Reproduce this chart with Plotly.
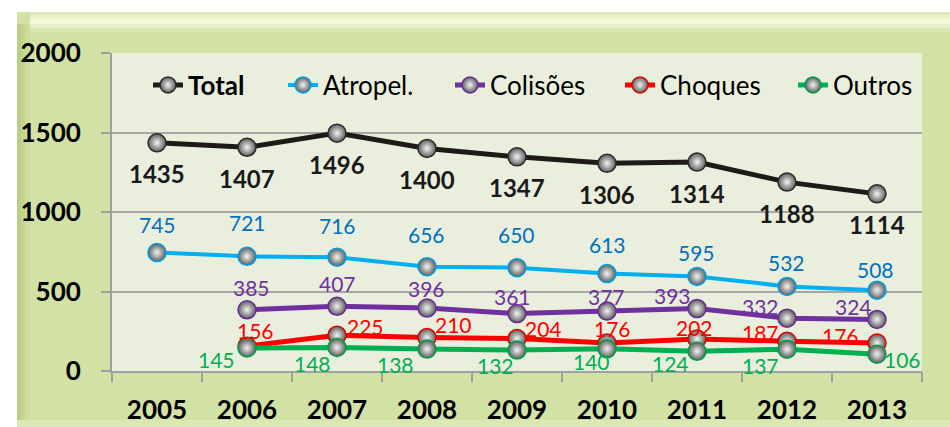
import plotly.graph_objects as go

# ---- data -------------------------------------------------------------
years = ["2005", "2006", "2007", "2008", "2009", "2010", "2011", "2012", "2013"]
total = [1435, 1407, 1496, 1400, 1347, 1306, 1314, 1188, 1114]
atropel = [745, 721, 716, 656, 650, 613, 595, 532, 508]
colisoes = [None, 385, 407, 396, 361, 377, 393, 332, 324]
choques = [None, 156, 225, 210, 204, 176, 202, 187, 176]
outros = [None, 145, 148, 138, 132, 140, 124, 137, 106]
y_ticks = [0, 500, 1000, 1500, 2000]

# ---- label offsets (pixels, dx right / dy down) ----------------------
off_total = [(0, 31)] * 9
off_atropel = [(0, -28), (0, -34), (0, -32), (-1, -32), (-1, -33),
               (0, -29), (-1, -24), (-1, -24), (-2, -21)]
off_colisoes = [None, (4, -22), (0, -23), (-1, -20), (-5, -17),
                (-1, -15), (-25, -13), (-27, -12), (-24, -13)]
off_choques = [None, (8, -16), (28, -9), (26, -13), (26, -10),
               (5, -15), (-3, -11), (-27, -9), (-37, -8)]
off_outros = [None, (-31, 12), (-25, 16), (-32, 15), (-22, 15),
              (-16, 13), (-27, 12), (-27, 16), (25, 5)]

FONT = "Lato, 'Open Sans', sans-serif"

series = [
    # name, values, line colour, rim colour, label colour, bold, offsets, legend width
    ("<b>Total</b>", total, "#1E1A16", "#2A2A2A", "#1A1A1A", True, off_total, 90),
    ("Atropel.", atropel, "#00B0F0", "#00A0E0", "#0070C0", False, off_atropel, 122),
    ("Colisões", colisoes, "#7030A0", "#6A2C96", "#7030A0", False, off_colisoes, 125),
    ("Choques", choques, "#FF0000", "#E00000", "#FF0000", False, off_choques, 128),
    ("Outros", outros, "#00B050", "#00A048", "#00B050", False, off_outros, 80),
]

fig = go.Figure()
annotations = []
for name, vals, lc, rim, tc, bold, offs, lw in series:
    fig.add_trace(go.Scatter(
        x=years, y=vals, name=name, mode="lines+markers",
        line=dict(color=lc, width=5 if lc != "#00B0F0" else 4),
        marker=dict(size=18, color="#5E5E5E",
                    gradient=dict(type="radial", color="#F4F4F4"),
                    line=dict(color=rim, width=1.5)),
        legendwidth=lw,
        hoverinfo="skip",
    ))
    for i, (v, o) in enumerate(zip(vals, offs)):
        if v is None:
            continue
        txt = f"<b>{v}</b>" if bold else str(v)
        annotations.append(dict(
            x=i, y=v, xref="x", yref="y", text=txt, showarrow=False,
            xshift=o[0], yshift=-o[1],
            font=dict(family=FONT, size=24 if bold else 21, color=tc),
        ))

# ---- frame / background shapes (paper coords; plot area = 112..922 x 53..371)
W, H = 950, 427
L, R, T, B = 112, 922, 53, 371


def px(xp):
    return (xp - L) / (R - L)


def py(yp):
    return (B - yp) / (B - T)


shapes = []
# outer green panel
shapes.append(dict(type="rect", xref="paper", yref="paper", layer="below",
                   x0=px(17), x1=px(951), y0=py(428), y1=py(12),
                   fillcolor="#D2E2A4", line=dict(width=0)))
# top highlight band
for y0, y1, col in [(12, 15, "#DDE9BC"), (15, 19, "#EAF2CC"), (19, 24, "#F4F9DA"),
                    (24, 28, "#E6F0C4"), (28, 32, "#DAE8B2")]:
    shapes.append(dict(type="rect", xref="paper", yref="paper", layer="below",
                       x0=px(30), x1=px(951), y0=py(y1), y1=py(y0),
                       fillcolor=col, line=dict(width=0)))
# left shaded edge
for x0, x1, col in [(17, 21, "#BACE84"), (21, 25, "#C3D690"), (25, 30, "#CBDC9B")]:
    shapes.append(dict(type="rect", xref="paper", yref="paper", layer="below",
                       x0=px(x0), x1=px(x1), y0=py(428), y1=py(24),
                       fillcolor=col, line=dict(width=0)))
# bottom light edge
shapes.append(dict(type="rect", xref="paper", yref="paper", layer="below",
                   x0=px(17), x1=px(951), y0=py(428), y1=py(420),
                   fillcolor="#DAE8B4", line=dict(width=0)))
# plot area
shapes.append(dict(type="rect", xref="paper", yref="paper", layer="below",
                   x0=0, x1=1, y0=0, y1=1,
                   fillcolor="#EAEEDD", line=dict(width=0)))

fig.update_layout(
    width=W, height=H,
    margin=dict(l=L, r=W - R, t=T, b=H - B, pad=0, autoexpand=False),
    paper_bgcolor="white",
    plot_bgcolor="rgba(0,0,0,0)",
    font=dict(family=FONT, color="black"),
    showlegend=True,
    legend=dict(orientation="h", x=px(148), y=py(85), xanchor="left", yanchor="middle",
                bgcolor="rgba(0,0,0,0)", font=dict(family=FONT, size=26, color="black"),
                itemclick=False, itemdoubleclick=False),
    shapes=shapes,
    annotations=annotations,
    xaxis=dict(type="category", categoryorder="array", categoryarray=years,
               range=[-0.5, len(years) - 0.5], automargin=False,
               showline=True, linecolor="#A0A0A0", linewidth=2,
               ticks="outside", tickson="boundaries", ticklen=9, tickwidth=2,
               tickcolor="#A0A0A0", showgrid=False, zeroline=False,
               ticklabelstandoff=15,
               tickfont=dict(family=FONT, size=26, color="black", weight="bold")),
    yaxis=dict(range=[0, 2000], tickvals=y_ticks, ticktext=[str(t) for t in y_ticks],
               automargin=False,
               showline=True, linecolor="#A0A0A0", linewidth=2,
               ticks="outside", ticklen=9, tickwidth=2, tickcolor="#A0A0A0",
               showgrid=True, gridcolor="#A6A6A6", gridwidth=1.5, zeroline=False,
               ticklabelstandoff=15,
               tickfont=dict(family=FONT, size=26, color="black", weight="bold")),
)

fig.write_html("out.html")
